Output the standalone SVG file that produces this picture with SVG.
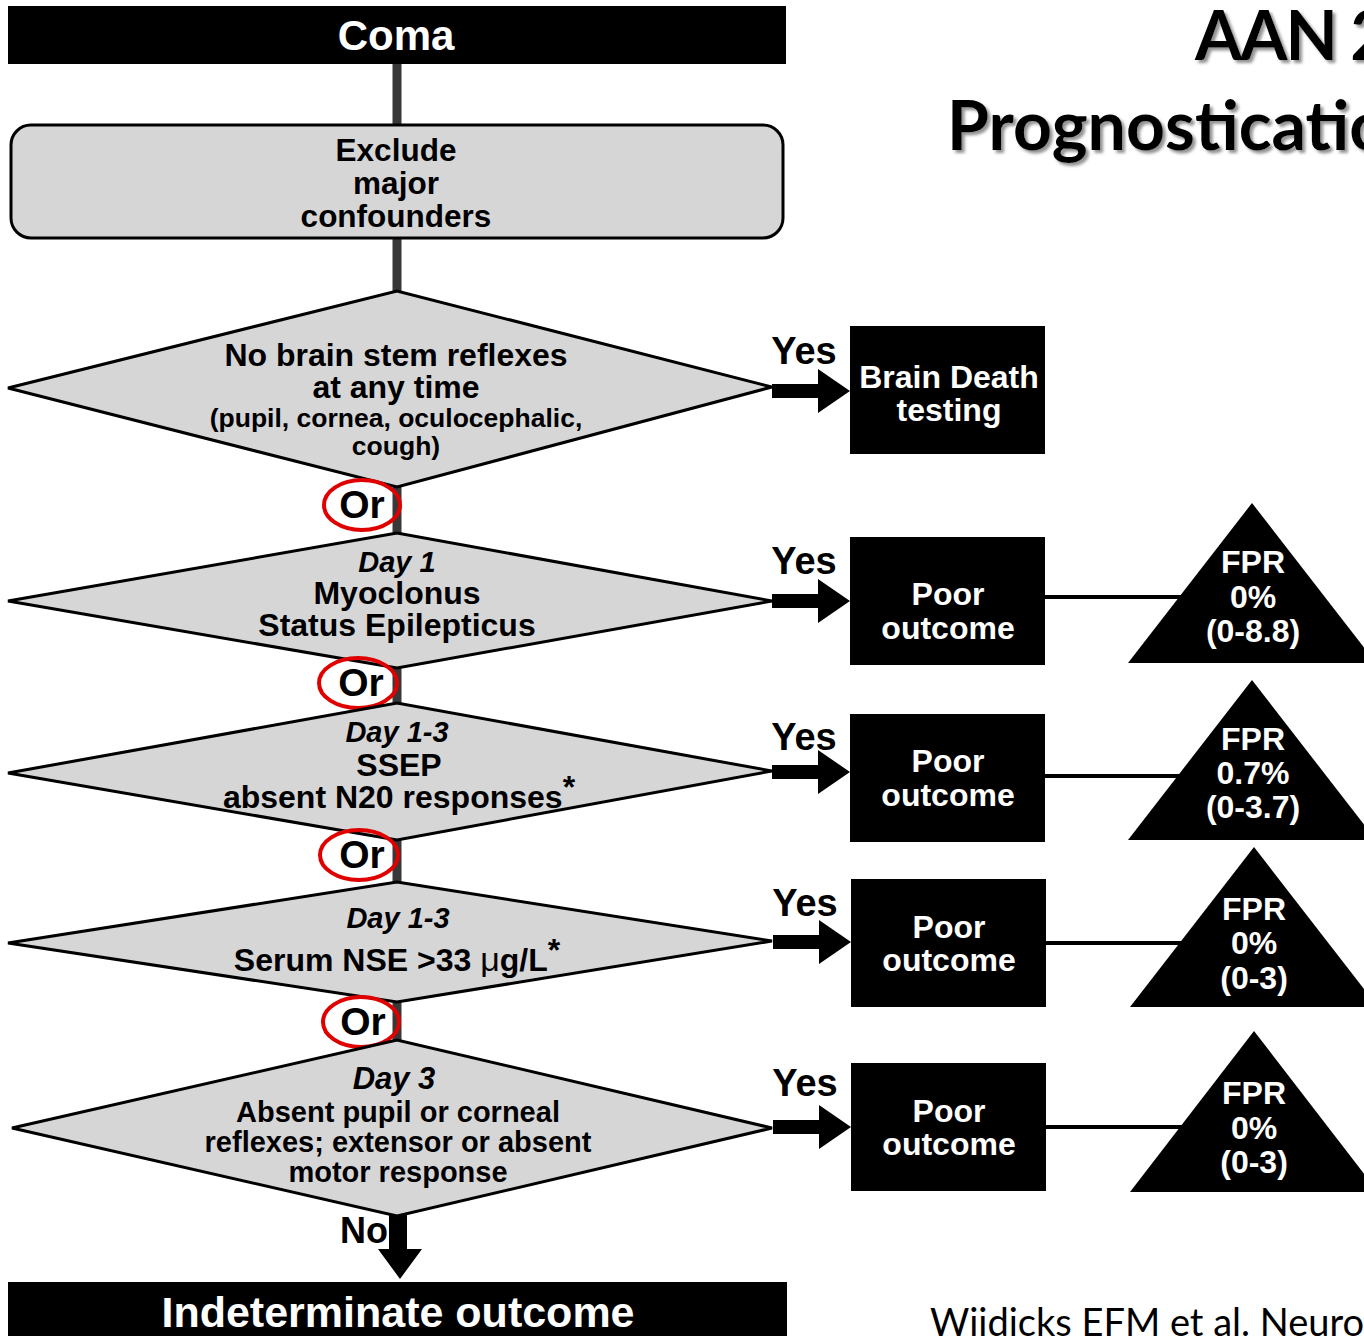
<svg xmlns="http://www.w3.org/2000/svg" width="1364" height="1336" viewBox="0 0 1364 1336">
<defs>
<style>
.t{font-family:"Liberation Sans",Arial,sans-serif;font-weight:bold;text-anchor:middle}
.w{fill:#fff}
.k{fill:#000}
.it{font-style:italic}
.dia{fill:#d6d6d6;stroke:#000;stroke-width:3;stroke-linejoin:miter}
.blk{fill:#000}
.vl{stroke:#383838;stroke-width:9;fill:none}
.hl{stroke:#000;stroke-width:4;fill:none}
.or{fill:none;stroke:#e00000;stroke-width:4}
.title{font-family:Lato,"Open Sans",sans-serif;font-weight:bold;font-size:68px;fill:#000}
.cite{font-family:Lato,"Open Sans",sans-serif;font-size:38px;fill:#000}
</style>
<filter id="sh" x="-5%" y="-20%" width="110%" height="140%">
<feDropShadow dx="3" dy="3" stdDeviation="1.5" flood-color="#777" flood-opacity="0.8"/>
</filter>
<path id="arr" d="M0,-7 L46,-7 L46,-22 L78,0 L46,22 L46,7 L0,7 Z"/>
</defs>
<rect width="1364" height="1336" fill="#fff"/>

<g id="connectors">
<line class="vl" x1="397" y1="64" x2="397" y2="126"/>
<line class="vl" x1="397" y1="237" x2="397" y2="293"/>
<line class="vl" x1="397" y1="486" x2="397" y2="536"/>
<line class="vl" x1="397" y1="667" x2="397" y2="706"/>
<line class="vl" x1="397" y1="839" x2="397" y2="885"/>
<line class="vl" x1="397" y1="1001" x2="397" y2="1043"/>
<use href="#arr" x="772" y="391"/>
<use href="#arr" x="772" y="601"/>
<use href="#arr" x="772" y="772"/>
<use href="#arr" x="773" y="942"/>
<use href="#arr" x="773" y="1127"/>
<path class="blk" d="M389,1214 L407,1214 L407,1249 L422,1249 L400,1279 L378,1249 L389,1249 Z"/>
<line class="hl" x1="1045" y1="597" x2="1200" y2="597"/>
<line class="hl" x1="1045" y1="776" x2="1200" y2="776"/>
<line class="hl" x1="1046" y1="943" x2="1200" y2="943"/>
<line class="hl" x1="1046" y1="1127" x2="1200" y2="1127"/>
<text class="t k" x="804" y="364" font-size="38">Yes</text>
<text class="t k" x="804" y="574" font-size="38">Yes</text>
<text class="t k" x="804" y="750" font-size="38">Yes</text>
<text class="t k" x="805" y="916" font-size="38">Yes</text>
<text class="t k" x="805" y="1096" font-size="38">Yes</text>
<text class="t k" x="364" y="1243" font-size="36">No</text>
</g>

<g id="coma">
<rect class="blk" x="8" y="6" width="778" height="58"/>
<text class="t w" x="396" y="50" font-size="42">Coma</text>
</g>

<g id="exclude">
<rect x="11" y="125" width="772" height="113" rx="20" fill="#d6d6d6" stroke="#000" stroke-width="3"/>
<text class="t k" x="396" y="161" font-size="31.5">Exclude</text>
<text class="t k" x="396" y="194" font-size="31.5">major</text>
<text class="t k" x="396" y="227" font-size="31.5">confounders</text>
</g>

<g id="d1">
<polygon class="dia" points="8,388 397,291 772,387 397,487"/>
<text class="t k" x="396" y="366" font-size="32">No brain stem reflexes</text>
<text class="t k" x="396" y="398" font-size="32">at any time</text>
<text class="t k" x="396" y="427" font-size="26.5">(pupil, cornea, oculocephalic,</text>
<text class="t k" x="396" y="455" font-size="26.5">cough)</text>
</g>

<g id="brain-death">
<rect class="blk" x="850" y="326" width="195" height="128"/>
<text class="t w" x="949" y="388" font-size="32">Brain Death</text>
<text class="t w" x="949" y="421" font-size="32">testing</text>
</g>

<g id="or1">
<ellipse class="or" cx="362" cy="505" rx="38" ry="25"/>
<text class="t k" x="362" y="518" font-size="39">Or</text>
</g>

<g id="d2">
<polygon class="dia" points="8,601 397,533 772,601 397,668"/>
<text class="t k it" x="397" y="572" font-size="29">Day 1</text>
<text class="t k" x="397" y="604" font-size="32">Myoclonus</text>
<text class="t k" x="397" y="636" font-size="32">Status Epilepticus</text>
</g>

<g id="poor1">
<rect class="blk" x="850" y="537" width="195" height="128"/>
<text class="t w" x="948" y="605" font-size="32">Poor</text>
<text class="t w" x="948" y="639" font-size="32">outcome</text>
</g>

<g id="fpr1">
<polygon class="blk" points="1252,503 1128,663 1376,663"/>
<text class="t w" x="1253" y="573" font-size="32">FPR</text>
<text class="t w" x="1253" y="608" font-size="32">0%</text>
<text class="t w" x="1253" y="642" font-size="32">(0-8.8)</text>
</g>

<g id="or2">
<ellipse class="or" cx="358" cy="683" rx="39" ry="25"/>
<text class="t k" x="361" y="696" font-size="39">Or</text>
</g>

<g id="d3">
<polygon class="dia" points="8,773 397,703 772,771 397,840"/>
<text class="t k it" x="397" y="742" font-size="29">Day 1-3</text>
<text class="t k" x="399" y="776" font-size="32">SSEP</text>
<text class="t k" x="399" y="808" font-size="32">absent N20 responses<tspan font-size="32" dy="-10">*</tspan></text>
</g>

<g id="poor2">
<rect class="blk" x="850" y="714" width="195" height="128"/>
<text class="t w" x="948" y="772" font-size="32">Poor</text>
<text class="t w" x="948" y="806" font-size="32">outcome</text>
</g>

<g id="fpr2">
<polygon class="blk" points="1252,680 1128,840 1376,840"/>
<text class="t w" x="1253" y="750" font-size="32">FPR</text>
<text class="t w" x="1253" y="784" font-size="32">0.7%</text>
<text class="t w" x="1253" y="818" font-size="32">(0-3.7)</text>
</g>

<g id="or3">
<ellipse class="or" cx="359" cy="855" rx="39" ry="25"/>
<text class="t k" x="362" y="868" font-size="39">Or</text>
</g>

<g id="d4">
<polygon class="dia" points="8,943 397,882 772,941 397,1002"/>
<text class="t k it" x="398" y="928" font-size="29">Day 1-3</text>
<text class="t k" x="397" y="971" font-size="32">Serum NSE &gt;33 <tspan font-weight="normal" font-size="34">μ</tspan>g/L<tspan font-size="32" dy="-10">*</tspan></text>
</g>

<g id="poor3">
<rect class="blk" x="851" y="879" width="195" height="128"/>
<text class="t w" x="949" y="938" font-size="32">Poor</text>
<text class="t w" x="949" y="971" font-size="32">outcome</text>
</g>

<g id="fpr3">
<polygon class="blk" points="1254,847 1130,1007 1378,1007"/>
<text class="t w" x="1254" y="920" font-size="32">FPR</text>
<text class="t w" x="1254" y="954" font-size="32">0%</text>
<text class="t w" x="1254" y="989" font-size="32">(0-3)</text>
</g>

<g id="or4">
<ellipse class="or" cx="361" cy="1022" rx="38" ry="25"/>
<text class="t k" x="363" y="1035" font-size="39">Or</text>
</g>

<g id="d5">
<polygon class="dia" points="12,1128 397,1040 772,1128 397,1216"/>
<text class="t k it" x="394" y="1089" font-size="31">Day 3</text>
<text class="t k" x="398" y="1122" font-size="29">Absent pupil or corneal</text>
<text class="t k" x="398" y="1152" font-size="29">reflexes; extensor or absent</text>
<text class="t k" x="398" y="1182" font-size="29">motor response</text>
</g>

<g id="poor4">
<rect class="blk" x="851" y="1063" width="195" height="128"/>
<text class="t w" x="949" y="1122" font-size="32">Poor</text>
<text class="t w" x="949" y="1155" font-size="32">outcome</text>
</g>

<g id="fpr4">
<polygon class="blk" points="1254,1031 1130,1192 1378,1192"/>
<text class="t w" x="1254" y="1104" font-size="32">FPR</text>
<text class="t w" x="1254" y="1139" font-size="32">0%</text>
<text class="t w" x="1254" y="1173" font-size="32">(0-3)</text>
</g>

<g id="indeterminate">
<rect class="blk" x="8" y="1282" width="779" height="60"/>
<text class="t w" x="398" y="1327" font-size="43">Indeterminate outcome</text>
</g>

<g id="title" filter="url(#sh)">
<text class="title" x="1195" y="60" letter-spacing="-2">AAN 2</text>
<text class="title" x="947" y="150">Prognosticatio</text>
</g>

<g id="citation">
<text class="cite" x="930" y="1336">Wijdicks EFM et al. Neuro</text>
</g>
</svg>
